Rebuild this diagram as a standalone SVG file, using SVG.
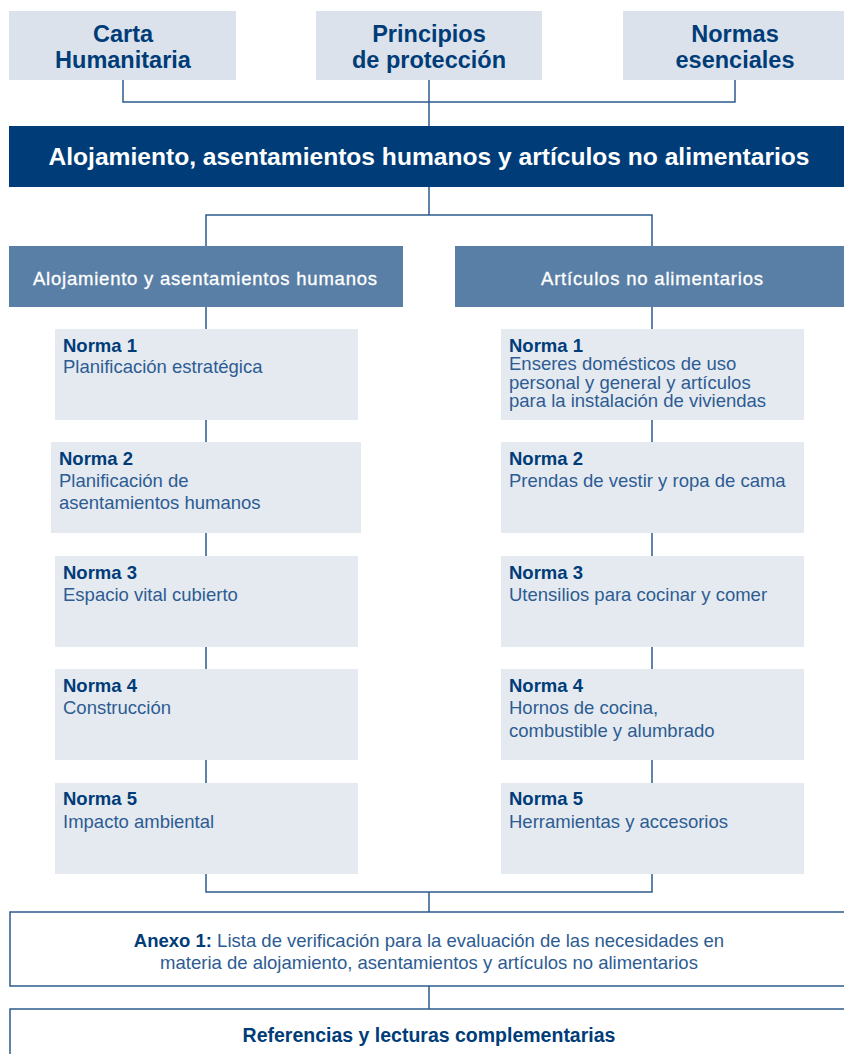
<svg xmlns="http://www.w3.org/2000/svg" width="844" height="1054" viewBox="0 0 844 1054">
<style>
.top{fill:#dbe2eb}
.box{fill:#e5eaf1}
.hdr{fill:#5a7fa6}
.band{fill:#003d78}
.frame{fill:#ffffff;stroke:#2d5b8e;stroke-width:1.5}
.conn{fill:none;stroke:#2d5b8e;stroke-width:1.5}
text{font-family:"Liberation Sans",Arial,Helvetica,sans-serif}
.tt{font-size:23.5px;font-weight:bold;fill:#003c78;text-anchor:middle}
.bt{font-size:24px;font-weight:bold;fill:#ffffff;text-anchor:middle}
.ht{font-size:18.5px;fill:#ffffff;text-anchor:middle;stroke:#ffffff;stroke-width:0.3}
.nb{font-size:18.5px;font-weight:bold;fill:#003c78}
.nd{font-size:18.5px;fill:#2d5c92}
.ct{font-size:18.5px;fill:#2d5c92;text-anchor:middle}
.cb{font-weight:bold;fill:#003c78}
</style>
<g id="connectors">
<path class="conn" d="M123 80V102H735V80M429 80V126"/>
<path class="conn" d="M429 187V215M206 246V215H652V246"/>
<path class="conn" d="M206 307V329M206 420V442M206 533V556M206 647V669M206 760V783"/>
<path class="conn" d="M652 307V329M652 420V442M652 533V556M652 647V669M652 760V783"/>
<path class="conn" d="M206 874V892H652V874M429 892V912M429 986V1009"/>
</g>
<g id="carta">
<rect class="top" x="9" y="11" width="227" height="69"/>
<text class="tt" x="123" y="42">Carta</text>
<text class="tt" x="123" y="68">Humanitaria</text>
</g>
<g id="principios">
<rect class="top" x="316" y="11" width="226" height="69"/>
<text class="tt" x="429" y="42">Principios</text>
<text class="tt" x="429" y="68">de protección</text>
</g>
<g id="normas">
<rect class="top" x="623" y="11" width="230" height="69"/>
<text class="tt" x="735" y="42">Normas</text>
<text class="tt" x="735" y="68">esenciales</text>
</g>
<g id="band">
<rect class="band" x="9" y="126" width="845" height="61"/>
<text class="bt" x="429" y="165" textLength="761" lengthAdjust="spacingAndGlyphs">Alojamiento, asentamientos humanos y artículos no alimentarios</text>
</g>
<g id="hdr-left">
<rect class="hdr" x="9" y="246" width="394" height="61"/>
<text class="ht" x="205" y="285" textLength="344">Alojamiento y asentamientos humanos</text>
</g>
<g id="hdr-right">
<rect class="hdr" x="455" y="246" width="399" height="61"/>
<text class="ht" x="652" y="285" textLength="222">Artículos no alimentarios</text>
</g>
<g id="l1">
<rect class="box" x="55" y="329" width="303" height="91"/>
<text class="nb" x="63" y="352">Norma 1</text>
<text class="nd" x="63" y="373">Planificación estratégica</text>
</g>
<g id="l2">
<rect class="box" x="51" y="442" width="310" height="91"/>
<text class="nb" x="59" y="465">Norma 2</text>
<text class="nd" x="59" y="487">Planificación de</text>
<text class="nd" x="59" y="509">asentamientos humanos</text>
</g>
<g id="l3">
<rect class="box" x="55" y="556" width="303" height="91"/>
<text class="nb" x="63" y="579">Norma 3</text>
<text class="nd" x="63" y="601">Espacio vital cubierto</text>
</g>
<g id="l4">
<rect class="box" x="55" y="669" width="303" height="91"/>
<text class="nb" x="63" y="692">Norma 4</text>
<text class="nd" x="63" y="714">Construcción</text>
</g>
<g id="l5">
<rect class="box" x="55" y="783" width="303" height="91"/>
<text class="nb" x="63" y="805">Norma 5</text>
<text class="nd" x="63" y="828">Impacto ambiental</text>
</g>
<g id="r1">
<rect class="box" x="501" y="329" width="303" height="91"/>
<text class="nb" x="509" y="352">Norma 1</text>
<text class="nd" x="509" y="370">Enseres domésticos de uso</text>
<text class="nd" x="509" y="388.5">personal y general y artículos</text>
<text class="nd" x="509" y="407">para la instalación de viviendas</text>
</g>
<g id="r2">
<rect class="box" x="501" y="442" width="303" height="91"/>
<text class="nb" x="509" y="465">Norma 2</text>
<text class="nd" x="509" y="487">Prendas de vestir y ropa de cama</text>
</g>
<g id="r3">
<rect class="box" x="501" y="556" width="303" height="91"/>
<text class="nb" x="509" y="579">Norma 3</text>
<text class="nd" x="509" y="601">Utensilios para cocinar y comer</text>
</g>
<g id="r4">
<rect class="box" x="501" y="669" width="303" height="91"/>
<text class="nb" x="509" y="692">Norma 4</text>
<text class="nd" x="509" y="714">Hornos de cocina,</text>
<text class="nd" x="509" y="737">combustible y alumbrado</text>
</g>
<g id="r5">
<rect class="box" x="501" y="783" width="303" height="91"/>
<text class="nb" x="509" y="805">Norma 5</text>
<text class="nd" x="509" y="828">Herramientas y accesorios</text>
</g>
<g id="anexo">
<rect class="frame" x="10" y="912" width="900" height="74"/>
<text class="ct" x="429" y="947"><tspan class="cb">Anexo 1:</tspan> Lista de verificación para la evaluación de las necesidades en</text>
<text class="ct" x="429" y="969">materia de alojamiento, asentamientos y artículos no alimentarios</text>
</g>
<g id="referencias">
<rect class="frame" x="10" y="1009" width="900" height="100"/>
<text class="ct cb" x="429" y="1042" style="font-size:19.5px">Referencias y lecturas complementarias</text>
</g>
</svg>
